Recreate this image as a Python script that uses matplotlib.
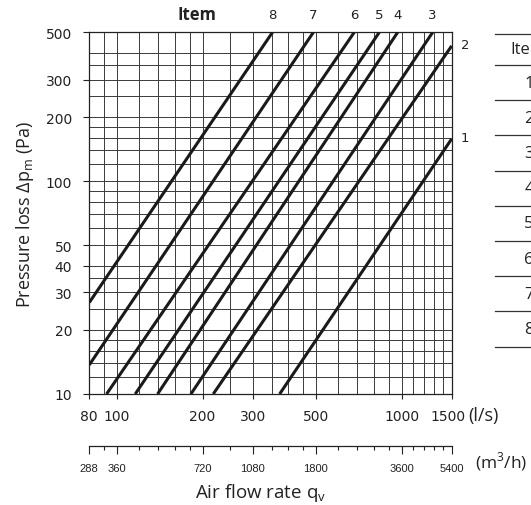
import matplotlib
matplotlib.use("Agg")
import matplotlib.pyplot as plt
import matplotlib.transforms as mtransforms
from matplotlib.lines import Line2D
from matplotlib.ticker import FixedLocator, FixedFormatter, NullFormatter

plt.rcParams["font.family"] = ["DejaVu Sans"]

# pressure loss lines, each drawn between two points
items = ["1", "2", "3", "4", "5", "6", "7", "8"]
q_start = [373, 218, 182, 139, 116, 92, 80, 80]
dp_start = [10, 10, 10, 10, 10, 10, 13.7, 26.9]
q_end = [1500, 1500, 1286, 969, 835, 682, 490, 352]
dp_end = [158, 432, 500, 500, 500, 500, 500, 500]

# axes ticks and grid
x_major = [80, 100, 200, 300, 500, 1000, 1500]
x_grid = [80, 90, 100, 120, 140, 160, 180, 200, 250, 300, 350, 400, 450,
          500, 600, 700, 800, 900, 1000, 1100, 1200, 1300, 1400, 1500]
y_major = [10, 20, 30, 40, 50, 100, 200, 300, 500]
y_grid = [10, 12, 14, 16, 18, 20, 25, 30, 35, 40, 50, 60, 70, 80, 90,
          100, 120, 140, 160, 180, 200, 250, 300, 350, 400, 500]
m3h_major = [288, 360, 720, 1080, 1800, 3600, 5400]

W, H = 531, 506
fig = plt.figure(figsize=(W / 100, H / 100), dpi=100)

L, R, T, B = 89.3, 451.7, 33.3, 395
ax = fig.add_axes([L / W, 1 - B / H, (R - L) / W, (B - T) / H])
ax.set_xscale("log")
ax.set_yscale("log")
ax.set_xlim(80, 1500)
ax.set_ylim(10, 500)

ax.xaxis.set_major_locator(FixedLocator(x_major))
ax.xaxis.set_major_formatter(FixedFormatter([str(v) for v in x_major]))
ax.xaxis.set_minor_locator(FixedLocator(x_grid))
ax.xaxis.set_minor_formatter(NullFormatter())
ax.yaxis.set_major_locator(FixedLocator(y_major))
ax.yaxis.set_major_formatter(FixedFormatter([str(v) for v in y_major]))
ax.yaxis.set_minor_locator(FixedLocator(y_grid))
ax.yaxis.set_minor_formatter(NullFormatter())

ax.tick_params(axis="x", which="major", direction="out", length=3.6,
               width=0.8, pad=7.5, labelsize=10, colors="#222222")
ax.tick_params(axis="y", which="major", direction="out", length=4.3,
               width=0.8, pad=8, labelsize=10, colors="#222222")
ax.tick_params(which="minor", length=0)
ax.grid(True, which="both", color="#3a3a3a", lw=0.7)
ax.set_axisbelow(True)
for s in ax.spines.values():
    s.set_color("#222222")
    s.set_linewidth(0.9)

# nudge the last flow label left so the unit fits beside it
last = ax.xaxis.get_major_ticks()[-1].label1
last.set_transform(last.get_transform()
                   + mtransforms.ScaledTranslation(-0.035, 0, fig.dpi_scale_trans))

for i, name in enumerate(items):
    ax.plot([q_start[i], q_end[i]], [dp_start[i], dp_end[i]],
            color="#1a1a1a", lw=2.2, solid_capstyle="butt", zorder=3)
    if dp_end[i] >= 500:
        ax.annotate(name, (q_end[i], dp_end[i]), xytext=(0, 13),
                    textcoords="offset points", ha="center", va="center",
                    fontsize=9.5, color="#222222", annotation_clip=False)
    else:
        ax.annotate(name, (q_end[i], dp_end[i]), xytext=(6.5, 1.3),
                    textcoords="offset points", ha="left", va="center",
                    fontsize=9.5, color="#222222", annotation_clip=False)

lab = dict(family=["Open Sans", "DejaVu Sans"], color="#222222")
fig.text(196.7 / W, 1 - 15 / H, "Item", ha="center", va="center",
         fontsize=12, fontweight="bold", **lab)
ax.set_ylabel(r"Pressure loss Δp$_\mathregular{m}$ (Pa)", fontsize=13,
              labelpad=7, **lab)
fig.text(468 / W, 1 - 415.7 / H, "(l/s)", ha="left", va="center",
         fontsize=13, **lab)

# second flow axis in m3/h
y2 = 447
ax2 = fig.add_axes([L / W, 1 - y2 / H, (R - L) / W, 0.0001])
ax2.set_xscale("log")
ax2.set_xlim(80 * 3.6, 1500 * 3.6)
ax2.set_yticks([])
ax2.patch.set_alpha(0)
for k in ["left", "right", "top"]:
    ax2.spines[k].set_visible(False)
ax2.spines["bottom"].set_color("#222222")
ax2.spines["bottom"].set_linewidth(0.9)
ax2.xaxis.set_major_locator(FixedLocator(m3h_major))
ax2.xaxis.set_major_formatter(FixedFormatter([str(v) for v in m3h_major]))
ax2.xaxis.set_minor_locator(FixedLocator([v * 3.6 for v in x_grid]))
ax2.xaxis.set_minor_formatter(NullFormatter())
ax2.tick_params(axis="x", which="major", direction="out", length=6,
                width=0.8, pad=6.5, labelsize=8, colors="#222222")
ax2.tick_params(axis="x", which="minor", direction="out", length=2.6,
                width=0.8, colors="#222222")
for t in ax2.get_xticklabels():
    t.set_family(["Liberation Sans", "DejaVu Sans"])
fig.text(475 / W, 1 - 462 / H, r"(m$^\mathregular{3}$/h)", ha="left",
         va="center", fontsize=12.5, **lab)
fig.text(261 / W, 1 - 493 / H, r"Air flow rate q$_\mathregular{v}$",
         ha="center", va="center", fontsize=13.5, **lab)

# item table on the right, cut by the figure edge
rows_y = [35, 66, 101.2, 136.4, 171.6, 206.8, 242, 277.2, 312.4, 347.6]
for yy in rows_y:
    fig.add_artist(Line2D([495 / W, 1.0], [1 - yy / H, 1 - yy / H],
                          color="#333333", lw=0.9))
fig.text(510 / W, 1 - (rows_y[0] + rows_y[1]) / 2 / H, "Item", ha="left",
         va="center", fontsize=12, **lab)
for i, name in enumerate(items):
    yc = (rows_y[i + 1] + rows_y[i + 2]) / 2
    fig.text(529 / W, 1 - yc / H, name, ha="center", va="center",
             fontsize=12, **lab)

fig.savefig("out.png", dpi=100)
